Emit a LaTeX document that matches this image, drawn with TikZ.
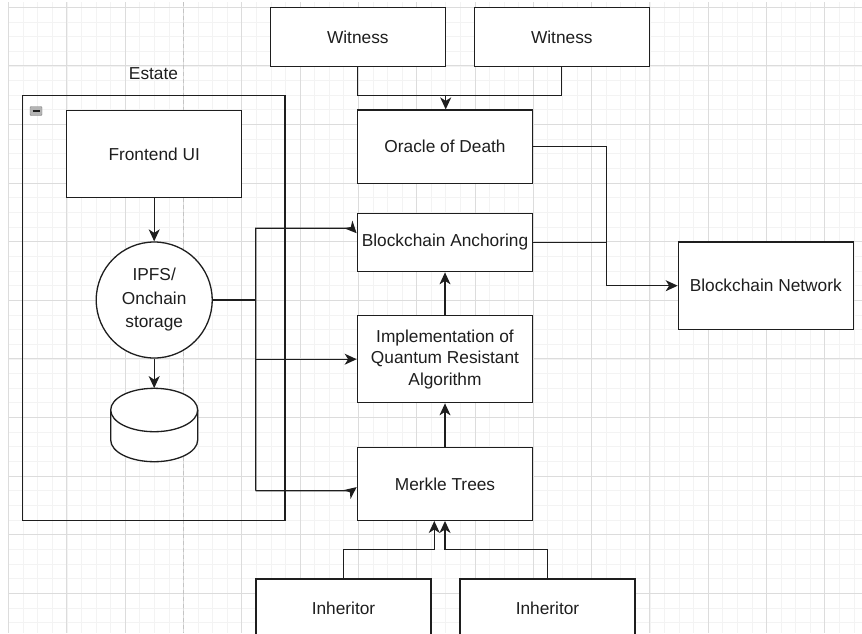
\documentclass[tikz,border=0pt]{standalone}
\usepackage{fontspec}
\setmainfont{Liberation Sans}
\usetikzlibrary{arrows.meta,positioning,calc}
\definecolor{ink}{HTML}{1E1E1E}
\definecolor{gmin}{HTML}{F3F3F3}
\definecolor{gmaj}{HTML}{DCDCDC}
\definecolor{pagebrk}{HTML}{C4C4C4}
\definecolor{foldc}{HTML}{B4B4B4}
\tikzset{
  box/.style={rectangle, draw=ink, fill=white, line width=1.3pt, inner sep=0pt,
    minimum width=175pt, align=center, text=ink, font=\fontsize{17.3}{21.5}\selectfont},
  store/.style={circle, draw=ink, fill=white, line width=1.3pt, inner sep=0pt,
    minimum size=116pt, align=center, text=ink, font=\fontsize{17.3}{23.5}\selectfont},
  frame/.style={rectangle, draw=ink, line width=1.3pt, inner sep=0pt},
  fold/.style={rectangle, draw=gray, fill=foldc, rounded corners=1pt, inner sep=0pt,
    minimum width=12pt, minimum height=9pt,
    path picture={\draw[ink, line width=1.5pt] ([xshift=2.5pt]path picture bounding box.west) -- ([xshift=-2.5pt]path picture bounding box.east);}},
  wire/.style={ink, line width=1.3pt},
  link/.style={ink, line width=1.3pt, -{Stealth[length=12pt, width=11pt, inset=3.5pt]}},
  gmi/.style={gmin, line width=0.8pt},
  gma/.style={gmaj, line width=0.9pt},
}
\begin{document}
\begin{tikzpicture}[x=1pt, y=-1pt]
  \path[use as bounding box, clip] (0,0) rectangle (862,633);
  \fill[white] (0,0) rectangle (862,633);
  % background grid
  \foreach \i in {0,...,58} \draw[gmi] ({8.6+14.575*\i},2) -- ({8.6+14.575*\i},633);
  \foreach \i in {0,...,43} \draw[gmi] (9,{7.3+14.65*\i}) -- (862,{7.3+14.65*\i});
  \foreach \i in {0,...,14} \draw[gma] ({8.6+58.3*\i},2) -- ({8.6+58.3*\i},633);
  \foreach \i in {0,...,10} \draw[gma] (9,{7.3+58.6*\i}) -- (862,{7.3+58.6*\i});
  \draw[pagebrk, line width=0.9pt, dash pattern=on 4pt off 3pt] (183.4,2) -- (183.4,633);
  % estate container
  \node[frame, minimum width=262.3pt, minimum height=424.6pt] (estate) at (153.85,308) {};
  \node[text=ink, font=\fontsize{17.3}{21.5}\selectfont] (estlbl) at (153.5,74) {Estate};
  \node[fold] (foldbtn) at (36,111) {};
  \node[box, minimum height=87pt] (ui) at (154.2,154.2) {Frontend UI};
  \node[store] (ipfs) at (154.2,300) {IPFS/\\Onchain\\storage};
  \node[inner sep=0pt, minimum width=87pt, minimum height=73.4pt] (db) at (154.2,425) {};
  \draw[wire, fill=white] (110.7,410) -- (110.7,440)
    arc[start angle=180, end angle=360, x radius=43.5pt, y radius=21.7pt] -- (197.7,410);
  \draw[wire, fill=white] (154.2,410) ellipse [x radius=43.5pt, y radius=21.7pt];
  % chain column
  \node[box, minimum height=59.4pt] (w1) at (357.8,37) {Witness};
  \node[box, minimum height=59.4pt] (w2) at (561.8,37) {Witness};
  \node[box, minimum width=175.4pt, minimum height=73.3pt] (oracle) at (445,146.7) {Oracle of Death};
  \node[box, minimum width=175.4pt, minimum height=58.4pt] (anchor) at (445,242.5) {Blockchain Anchoring};
  \node[box, minimum height=87.3pt] (net) at (765.8,285.7) {Blockchain Network};
  \node[box, minimum width=175.4pt, minimum height=87pt] (qra) at (445,359.2) {Implementation of\\Quantum Resistant\\Algorithm};
  \node[box, minimum width=175.4pt, minimum height=72.6pt] (merkle) at (445,484) {Merkle Trees};
  \node[box, minimum height=58.4pt] (inh1) at (343.5,608.2) {Inheritor};
  \node[box, minimum height=58.4pt] (inh2) at (547.5,608.2) {Inheritor};
  % junction points
  \coordinate (wj) at (445.7,95.7);
  \coordinate (bx) at (606.5,0);
  \coordinate (bus) at (255.7,0);
  \coordinate (ij) at (0,549.7);
  % connectors
  \draw[wire] (w1.south) |- (wj) -| (w2.south);
  \draw[link] (wj) -- (wj |- oracle.north);
  \draw[link, line width=1pt] (oracle.east) -| (bx |- net.west) -- (net.west);
  \draw[wire] (anchor.east) -- (bx |- anchor.east);
  \draw[link] (merkle.north) -- (qra.south);
  \draw[link] (qra.north) -- (anchor.south);
  \draw[link] (ui.south) -- (ipfs.north);
  \draw[link] (ipfs.south) -- (db.north);
  \draw[wire] (ipfs.east) -- (bus |- ipfs.east);
  \draw[link] (bus |- 0,490.7) -- (bus |- 0,228.3) -- (352,228.3) -- (anchor.174);
  \draw[link] (bus |- qra.west) -- (qra.west);
  \draw[link] (bus |- 0,490.7) -- (352,490.7) -- (merkle.182);
  \draw[link] (inh1.north) |- ([xshift=-10.7pt]merkle.south |- ij) -- ([xshift=-10.7pt]merkle.south);
  \draw[link] (inh2.north) |- (merkle.south |- ij) -- (merkle.south);
\end{tikzpicture}
\end{document}
